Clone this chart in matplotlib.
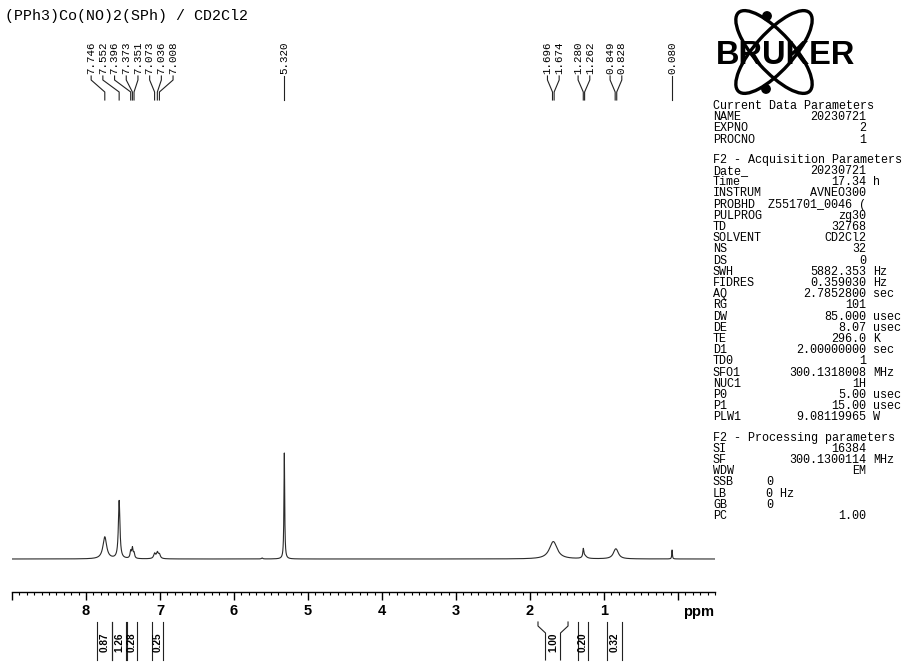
import matplotlib
matplotlib.use("Agg")
import matplotlib.pyplot as plt
import matplotlib.transforms as mtransforms
from matplotlib.patches import Ellipse, Circle
from matplotlib.ticker import FixedLocator, MultipleLocator, FuncFormatter
import numpy as np

title = "(PPh3)Co(NO)2(SPh) / CD2Cl2"

# picked peaks written above the trace (ppm)
peak_labels = [7.746, 7.552, 7.396, 7.373, 7.351, 7.073, 7.036, 7.008, 5.320,
               1.696, 1.674, 1.280, 1.262, 0.849, 0.828, 0.080]

# lines of the trace: centre (ppm), height, half-height width (ppm)
line_ppm = [7.746, 7.552, 7.396, 7.373, 7.351, 7.073, 7.036, 7.008, 5.62, 5.320,
            1.696, 1.674, 1.280, 1.262, 0.849, 0.828, 0.080]
line_height = [22, 58, 7, 10, 5, 5, 6, 4, 1, 106,
               9, 9, 8, 3, 6, 5, 9]
line_width = [0.06, 0.025, 0.02, 0.02, 0.02, 0.03, 0.03, 0.03, 0.02, 0.012,
              0.12, 0.12, 0.015, 0.06, 0.07, 0.07, 0.01]

# integrals: (start, end) in ppm and printed value
integral_ranges = [(7.851, 7.649), (7.649, 7.459), (7.446, 7.311), (7.108, 6.959),
                   (1.892, 1.486), (1.351, 1.216), (0.959, 0.757)]
integral_values = ["0.87", "1.26", "0.28", "0.25", "1.00", "0.20", "0.32"]

tick_labels = [8, 7, 6, 5, 4, 3, 2, 1]

# parameter listing
current_names = ["NAME", "EXPNO", "PROCNO"]
current_values = ["20230721", "2", "1"]
current_units = ["", "", ""]

acq_names = ["Date_", "Time", "INSTRUM", "PROBHD", "PULPROG", "TD", "SOLVENT", "NS", "DS",
             "SWH", "FIDRES", "AQ", "RG", "DW", "DE", "TE", "D1", "TD0", "SFO1", "NUC1",
             "P0", "P1", "PLW1"]
acq_values = ["20230721", "17.34", "AVNEO300", "Z551701_0046 (", "zg30", "32768", "CD2Cl2",
              "32", "0", "5882.353", "0.359030", "2.7852800", "101", "85.000", "8.07",
              "296.0", "2.00000000", "1", "300.1318008", "1H", "5.00", "15.00", "9.08119965"]
acq_units = ["", "h", "", "", "", "", "", "", "", "Hz", "Hz", "sec", "", "usec", "usec",
             "K", "sec", "", "MHz", "", "usec", "usec", "W"]

proc_names = ["SI", "SF", "WDW", "SSB", "LB", "GB", "PC"]
proc_values = ["16384", "300.1300114", "EM", "0", "0", "0", "1.00"]
proc_units = ["", "MHz", "", "", "Hz", "", ""]

W, H = 903, 662
mono = "Liberation Mono"
sans = "Liberation Sans"

fig = plt.figure(figsize=(W / 100, H / 100), dpi=100)
fig.patch.set_facecolor("white")

# spectrum axes, bottom spine is the ppm scale
ax_left, ax_right, ax_bot, ax_top = 12, 715, 592, 80
ax = fig.add_axes([ax_left / W, 1 - ax_bot / H, (ax_right - ax_left) / W, (ax_bot - ax_top) / H])
ax.set_facecolor("none")
ax.set_xlim(9.0, -0.5)
ax.set_ylim(-33, ax_bot - ax_top - 33)

ppm = np.linspace(9.0, -0.5, 12000)
trace = np.zeros_like(ppm)
for c, h, w in zip(line_ppm, line_height, line_width):
    g = w / 2
    trace += h * g ** 2 / ((ppm - c) ** 2 + g ** 2)
ax.plot(ppm, trace, color="#2a2a2a", lw=0.8)

for s in ["left", "right", "top"]:
    ax.spines[s].set_visible(False)
ax.spines["bottom"].set_linewidth(1.0)
ax.set_yticks([])
ax.xaxis.set_major_locator(FixedLocator(list(range(0, 10))))
ax.xaxis.set_minor_locator(MultipleLocator(0.1))
ax.xaxis.set_major_formatter(FuncFormatter(lambda v, p: str(int(round(v))) if round(v) in tick_labels else ""))
ax.tick_params(axis="x", which="major", direction="out", length=5.8, width=1.0, pad=3,
               labelsize=10.5)
ax.tick_params(axis="x", which="minor", direction="out", length=2.5, width=0.8)
for lab in ax.get_xticklabels():
    lab.set_fontweight("bold")
    lab.set_family(sans)

# overlay in pixel units for the annotations
ov = fig.add_axes([0, 0, 1, 1])
ov.set_facecolor("none")
ov.axis("off")
blend = mtransforms.blended_transform_factory(ax.transData, ov.transData)

ov.text(5, 16, title, family=mono, fontsize=10.8, ha="left", va="center")
ov.text(714, 612, "ppm", family=sans, fontsize=10.5, fontweight="bold", ha="right", va="center")

# peak labels, spread so they do not overlap
gap = 11.7 / 74
order = sorted(peak_labels, reverse=True)
groups = [[p] for p in order]
merged = True
while merged:
    merged = False
    for i in range(len(groups) - 1):
        a, b = groups[i], groups[i + 1]
        ca = (max(a) + min(a)) / 2
        cb = (max(b) + min(b)) / 2
        a_end = ca - (len(a) - 1) * gap / 2
        b_start = cb + (len(b) - 1) * gap / 2
        if a_end - b_start < gap:
            groups[i] = a + b
            del groups[i + 1]
            merged = True
            break
for g in groups:
    c = (max(g) + min(g)) / 2
    for k, p in enumerate(g):
        xl = c + ((len(g) - 1) / 2 - k) * gap
        ov.text(xl, 74, "%.3f" % p, rotation=90, family=mono, fontsize=7.8,
                ha="center", va="bottom", transform=blend)
        ov.plot([xl, xl, p, p], [76, 80, 92, 100], color="#222222", lw=0.8, transform=blend)

# integrals under the scale
box = 15 / 74
for (hi, lo), val in zip(integral_ranges, integral_values):
    mid = (hi + lo) / 2
    half = min(hi - lo, box) / 2
    for edge, side in ((hi, mid + half), (lo, mid - half)):
        ov.plot([edge, edge, side, side], [622, 626, 633, 660], color="#222222", lw=0.8,
                transform=blend)
    ov.text(mid, 642, val, rotation=90, family=sans, fontsize=7.2, fontweight="bold",
            ha="center", va="center", transform=blend)

# logo
for ang in (48, -48):
    ov.add_patch(Ellipse((774, 52), 106, 38, angle=ang, fill=False, lw=2.4, ec="black"))
ov.add_patch(Circle((767, 16), 4.2, color="black"))
ov.add_patch(Circle((766, 89), 4.2, color="black"))
ov.text(786, 56, "BRUKER", family=sans, fontsize=23.5, fontweight="bold", ha="center",
        va="center", zorder=5)

# parameter listing
x_name, x_val, x_unit, x_left = 713, 866, 873, 766
step, extra = 11.2, 9.0
y = 106
ps = 8.5


def put_section(header, names, values, units, y):
    ov.text(x_name, y, header, family=mono, fontsize=ps, va="center", ha="left")
    for n, v, u in zip(names, values, units):
        y += step
        ov.text(x_name, y, n, family=mono, fontsize=ps, va="center", ha="left")
        if n in ("SSB", "LB", "GB"):
            ov.text(x_left, y, (v + " " + u).strip(), family=mono, fontsize=ps, va="center", ha="left")
        else:
            ov.text(x_val, y, v, family=mono, fontsize=ps, va="center", ha="right")
            if u:
                ov.text(x_unit, y, u, family=mono, fontsize=ps, va="center", ha="left")
    return y


y = put_section("Current Data Parameters", current_names, current_values, current_units, y)
y = put_section("F2 - Acquisition Parameters", acq_names, acq_values, acq_units, y + step + extra)
y = put_section("F2 - Processing parameters", proc_names, proc_values, proc_units, y + step + extra)

ov.set_xlim(0, W)
ov.set_ylim(H, 0)

fig.savefig("out.png", dpi=100)
plt.close(fig)
